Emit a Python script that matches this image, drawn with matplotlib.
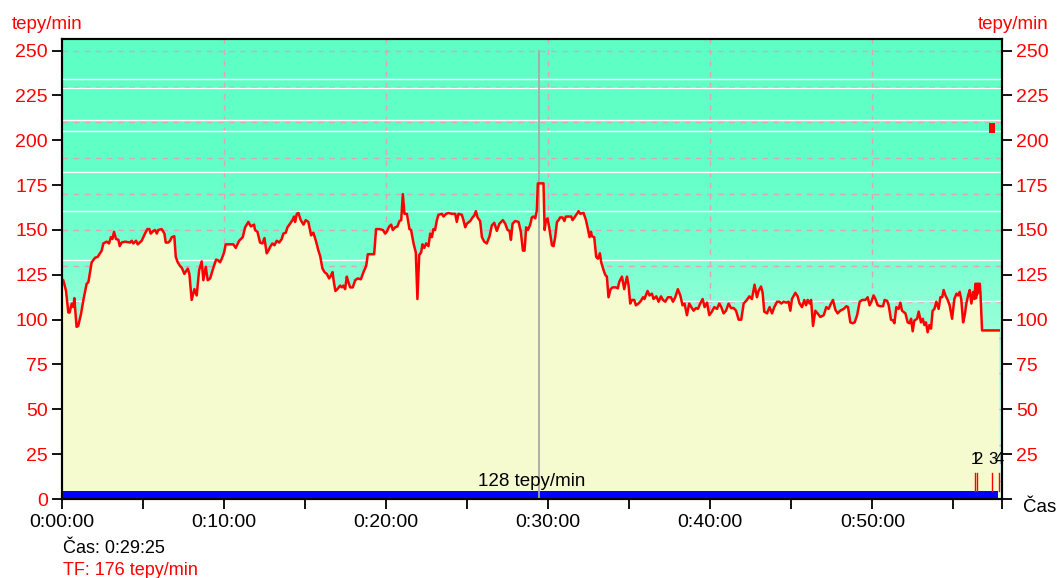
import numpy as np
import matplotlib
matplotlib.use("Agg")
import matplotlib.pyplot as plt
from matplotlib.colors import LinearSegmentedColormap
from matplotlib.ticker import FuncFormatter

plt.rcParams['font.family'] = ['Liberation Sans', 'DejaVu Sans']

# ── heart-rate trace (minutes, tepy/min) ─────────────────────────
hr_points = [
    (0.0, 122.5), (0.08, 122), (0.25, 116), (0.39, 104), (0.47, 104), (0.6, 109), (0.7, 107),
    (0.76, 112), (0.9, 96), (1.0, 96.5), (1.17, 103), (1.32, 111), (1.52, 120), (1.63, 121),
    (1.83, 132), (2.04, 134.5), (2.2, 135), (2.45, 138.5), (2.55, 142.5), (2.76, 143.5),
    (2.9, 142.5), (3.02, 146), (3.11, 145), (3.21, 149), (3.33, 145), (3.48, 144.5), (3.56, 141),
    (3.68, 143), (3.89, 143.5), (4.2, 143), (4.3, 144), (4.4, 142.5), (4.57, 144), (4.67, 142),
    (4.92, 144), (5.12, 148), (5.27, 150.5), (5.39, 150.5), (5.47, 148), (5.64, 149.5),
    (5.74, 150), (5.85, 148), (5.94, 150), (6.15, 150.5), (6.32, 148), (6.4, 143), (6.56, 143),
    (6.67, 144), (6.77, 146), (6.93, 146.5), (7.02, 135), (7.14, 132), (7.28, 130), (7.39, 129),
    (7.55, 125.5), (7.76, 128.5), (7.86, 125.5), (8.0, 111), (8.17, 117), (8.31, 113.5),
    (8.46, 127.5), (8.62, 132.5), (8.72, 122), (8.87, 129.5), (8.99, 122), (9.14, 123),
    (9.34, 129), (9.51, 133.5), (9.65, 133), (9.75, 132), (9.86, 134), (10.0, 137.5),
    (10.1, 142), (10.37, 142), (10.57, 142), (10.72, 140), (10.93, 144), (11.15, 146),
    (11.3, 151.5), (11.5, 154.5), (11.65, 152), (11.85, 153), (11.91, 150), (12.06, 149),
    (12.22, 143), (12.37, 142.5), (12.49, 145.5), (12.63, 137), (12.74, 138.5), (12.84, 140.5),
    (12.98, 142.5), (13.11, 141.5), (13.25, 144), (13.4, 143), (13.56, 145), (13.66, 148),
    (13.81, 148.5), (13.91, 151.5), (14.07, 153.5), (14.22, 155.5), (14.32, 157.5), (14.38, 154.5),
    (14.49, 159), (14.59, 159.5), (14.73, 155.5), (14.9, 153), (15.04, 155.5), (15.2, 154.5),
    (15.37, 147), (15.51, 148.5), (15.68, 143.5), (15.82, 138.5), (15.93, 135.5), (16.07, 128.5),
    (16.2, 126.5), (16.34, 125.5), (16.48, 123), (16.59, 124.5), (16.69, 126.5), (16.79, 120),
    (16.87, 116), (16.99, 117), (17.16, 119), (17.27, 118), (17.36, 119), (17.47, 117),
    (17.57, 124), (17.67, 121), (17.78, 118), (17.94, 118), (18.09, 122), (18.25, 123),
    (18.44, 122.5), (18.6, 126.5), (18.77, 130), (18.87, 136.5), (19.01, 136.5), (19.26, 136.5),
    (19.38, 150.5), (19.59, 150.5), (19.8, 150), (19.94, 148), (20.04, 149), (20.19, 152),
    (20.31, 153), (20.41, 150), (20.56, 151.5), (20.7, 152), (20.82, 155), (20.93, 155.5),
    (21.03, 170), (21.13, 159), (21.28, 159), (21.44, 150.5), (21.54, 150), (21.69, 142.5),
    (21.83, 137.5), (21.93, 111.5), (22.04, 136), (22.16, 137.5), (22.24, 142), (22.35, 140),
    (22.47, 142.5), (22.61, 141), (22.72, 148), (22.82, 146), (22.92, 150.5), (23.02, 150),
    (23.13, 155.5), (23.23, 158.5), (23.44, 159), (23.54, 157.5), (23.7, 159), (23.85, 159.5),
    (24.05, 159), (24.26, 159), (24.36, 154.5), (24.46, 159), (24.67, 158.5), (24.77, 155.5),
    (24.88, 151.5), (24.98, 153.5), (25.19, 155), (25.33, 157), (25.43, 158), (25.54, 160.5),
    (25.64, 157), (25.8, 155), (25.91, 146), (26.05, 143.5), (26.21, 142.5), (26.38, 146.5),
    (26.52, 152.5), (26.67, 154), (26.83, 149.5), (26.99, 153.5), (27.2, 155.5), (27.35, 153.5),
    (27.49, 150), (27.61, 149.5), (27.7, 144.5), (27.8, 153.5), (27.96, 155), (28.17, 154.5),
    (28.31, 149), (28.44, 138.5), (28.54, 138.5), (28.64, 151.5), (28.75, 150), (28.89, 153),
    (28.99, 157), (29.09, 157.5), (29.2, 156.5), (29.3, 161), (29.36, 176), (29.71, 176),
    (29.78, 150), (29.86, 155.5), (29.96, 156.5), (30.06, 151.5), (30.23, 141.5), (30.33, 141),
    (30.43, 146), (30.54, 154.5), (30.64, 155.5), (30.74, 157), (30.88, 157), (31.0, 155),
    (31.09, 157.5), (31.25, 157.5), (31.42, 157.5), (31.5, 155.5), (31.62, 157), (31.77, 159),
    (31.87, 160.5), (31.98, 159), (32.12, 159.5), (32.18, 159.5), (32.33, 155.5), (32.45, 150.5),
    (32.55, 146), (32.64, 149), (32.7, 146.5), (32.84, 146), (32.96, 135), (33.07, 134),
    (33.19, 137), (33.27, 132), (33.42, 127.5), (33.52, 125), (33.62, 124), (33.72, 112.5),
    (33.85, 117), (33.97, 118), (34.18, 118), (34.3, 117.5), (34.38, 121), (34.55, 124),
    (34.69, 117), (34.86, 124), (34.96, 119), (35.06, 109), (35.17, 111), (35.31, 111),
    (35.41, 108), (35.57, 109), (35.72, 110.5), (35.85, 112.5), (35.94, 111.5), (36.13, 116),
    (36.25, 113.5), (36.4, 114.5), (36.5, 111.5), (36.67, 113), (36.81, 110), (36.96, 113),
    (37.08, 111), (37.22, 110), (37.39, 112.5), (37.57, 112.5), (37.7, 110), (37.84, 112.5),
    (38.0, 117), (38.15, 113.5), (38.29, 108), (38.41, 109), (38.56, 102.5), (38.7, 109),
    (38.83, 107), (38.97, 105), (39.12, 106.5), (39.24, 106), (39.38, 109), (39.53, 111.5),
    (39.65, 107), (39.8, 109.5), (39.94, 102.5), (40.1, 104.5), (40.25, 107), (40.41, 106),
    (40.56, 109), (40.68, 107), (40.82, 103.5), (40.97, 105), (41.13, 109), (41.28, 106.5),
    (41.44, 106.5), (41.59, 105), (41.75, 100), (41.91, 100), (42.06, 109), (42.26, 111),
    (42.41, 113), (42.57, 111.5), (42.73, 119.5), (42.88, 112.5), (42.98, 116), (43.13, 118.5),
    (43.23, 115), (43.33, 104.5), (43.5, 103.5), (43.66, 107), (43.81, 103.5), (43.95, 107),
    (44.12, 110), (44.26, 110), (44.38, 109), (44.53, 110), (44.69, 109.5), (44.83, 110),
    (44.94, 105), (45.04, 111.5), (45.25, 115), (45.39, 113), (45.51, 109), (45.66, 107),
    (45.8, 111), (45.91, 108), (46.01, 111), (46.13, 109), (46.22, 111), (46.34, 96.5),
    (46.48, 105), (46.62, 103.5), (46.79, 101.5), (47.0, 102.5), (47.16, 107), (47.3, 106),
    (47.45, 109), (47.57, 111), (47.72, 105.5), (47.86, 103.5), (48.02, 105), (48.23, 106),
    (48.4, 107.5), (48.5, 107), (48.64, 98.5), (48.78, 98), (48.91, 98.5), (49.06, 102.5),
    (49.22, 110), (49.37, 111), (49.57, 111), (49.71, 112.5), (49.83, 108), (49.94, 110),
    (50.08, 113.5), (50.19, 111.5), (50.33, 108), (50.49, 107.5), (50.66, 107.5), (50.76, 111),
    (50.91, 110.5), (51.01, 108), (51.15, 100), (51.28, 99.5), (51.36, 98), (51.48, 107),
    (51.62, 106), (51.73, 109.5), (51.83, 105), (52.04, 103.5), (52.18, 98.5), (52.3, 98),
    (52.39, 100.5), (52.49, 93.5), (52.59, 99.5), (52.76, 100.5), (52.86, 104.5), (53.0, 98.5),
    (53.11, 100.5), (53.21, 97), (53.31, 98.5), (53.41, 93), (53.52, 97), (53.62, 95),
    (53.72, 105), (53.83, 106), (53.95, 110), (54.09, 106), (54.2, 112.5), (54.31, 112.5),
    (54.4, 116.5), (54.51, 113.5), (54.65, 111), (54.77, 108), (54.92, 100.5), (55.06, 111.5),
    (55.19, 114.5), (55.29, 113.5), (55.39, 115.5), (55.49, 111), (55.6, 98.5), (55.7, 102.5),
    (55.8, 109), (55.91, 113.5), (56.01, 116.5), (56.11, 109), (56.22, 115.5), (56.3, 111.5),
    (56.36, 120), (56.4, 112), (56.43, 120), (56.46, 114), (56.5, 120), (56.53, 115),
    (56.56, 120), (56.6, 116), (56.63, 120), (56.67, 115), (56.77, 94), (57.8, 94),
]
minutes = np.array([p[0] for p in hr_points])
bpm = np.array([p[1] for p in hr_points])

x_max = 58.0
y_max = 256.5
y_ticks = list(range(0, 251, 25))
major_x = [0, 10, 20, 30, 40, 50]
minor_x = [5, 15, 25, 35, 45, 55, 58]
grid_y = list(range(10, 251, 20))
zone_lines = [110.5, 133, 160.5, 182.5, 205, 211.5, 229, 234]

cursor_min = 29 + 25 / 60
cursor_bpm = 176
avg_bpm = 128
bar_end = 57.76
bar_height = 4.5

lap_min = [56.36, 56.48, 57.41, 57.84]
lap_names = ['1', '2', '3', '4']
lap_low, lap_high, lap_text_y = 4.5, 14.5, 22
max_mark = (57.22, 57.57, 204, 209.5)   # x0, x1, y0, y1


def fmt_time(m, pos=None):
    s = int(round(m * 60))
    return f"{s // 3600}:{(s // 60) % 60:02d}:{s % 60:02d}"


W, H = 1060, 578
fig = plt.figure(figsize=(W / 100, H / 100), dpi=100)
ax = fig.add_axes([62 / W, 79 / H, 940 / W, 460 / H])

# background gradient above the trace
cmap = LinearSegmentedColormap.from_list(
    'bg', [(0.0, '#e6fff4'), (0.4, '#93ffd7'), (0.55, '#74ffcf'),
           (0.75, '#61ffc7'), (1.0, '#5effc5')])
grad = np.linspace(0, 1, 256).reshape(-1, 1)
ax.imshow(grad, cmap=cmap, origin='lower', aspect='auto',
          extent=[0, x_max, 0, y_max], zorder=0)

for y in grid_y:
    ax.axhline(y, color='#d8a8ba', lw=1, dashes=(4, 4), zorder=1)
for x in major_x[1:]:
    ax.axvline(x, color='#d8a8ba', lw=1, dashes=(4, 4), zorder=1)
for y in zone_lines:
    ax.axhline(y, color='white', lw=1, zorder=1)

ax.fill_between(minutes, bpm, 0, color='#f6fbcf', lw=0, zorder=2)
ax.barh(0, bar_end, height=bar_height, left=0, align='edge',
        color='#0000ff', lw=0, zorder=2.5)
ax.plot([cursor_min, cursor_min], [0, 250], color='#a8a8a8', lw=1.3, zorder=3)
ax.plot(minutes, bpm, color='#ff0000', lw=1.8, zorder=4)

for m, name in zip(lap_min, lap_names):
    ax.plot([m, m], [lap_low, lap_high], color='#ff0000', lw=1, zorder=4)
    ax.text(m, lap_text_y, name, ha='center', va='center', fontsize=12, zorder=5)
ax.fill_between([max_mark[0], max_mark[1]], max_mark[2], max_mark[3],
                color='#ff0000', lw=0, zorder=4)

ax.text(0.5, bar_height + 0.3, f"{avg_bpm} tepy/min", transform=ax.get_yaxis_transform(),
        ha='center', va='bottom', fontsize=13.5, zorder=5)

ax.set_xlim(0, x_max)
ax.set_ylim(0, y_max)
ax.set_xticks(major_x)
ax.set_xticks(minor_x, minor=True)
ax.xaxis.set_major_formatter(FuncFormatter(fmt_time))
ax.set_yticks(y_ticks)
ax.tick_params(axis='x', which='both', direction='out', length=7, width=1.3,
               labelsize=14, pad=4)
ax.tick_params(axis='y', direction='out', length=7, width=1.3, labelsize=14,
               labelcolor='#ff0000', pad=3)

# right axis: same scale, no label at zero (the "Čas" caption sits there)
ax2 = ax.twinx()
ax2.set_ylim(0, y_max)
ax2.set_yticks(y_ticks)
ax2.set_yticklabels([''] + [str(v) for v in y_ticks[1:]])
ax2.tick_params(axis='y', direction='out', length=7, width=1.3, labelsize=14,
                labelcolor='#ff0000', pad=3)
for a in (ax, ax2):
    for sp in a.spines.values():
        sp.set_linewidth(1.5)

fig.text(12 / W, 1 - 29 / H, 'tepy/min', color='#ff0000', fontsize=13.5, va='baseline')
fig.text(1048 / W, 1 - 29 / H, 'tepy/min', color='#ff0000', fontsize=13.5,
         va='baseline', ha='right')
fig.text(1023 / W, 1 - 512 / H, 'Čas', fontsize=13.5, va='baseline')
fig.text(63 / W, 1 - 553 / H, f"Čas: {fmt_time(cursor_min)}", fontsize=13, va='baseline')
fig.text(63 / W, 1 - 575 / H, f"TF: {cursor_bpm} tepy/min", fontsize=13,
         va='baseline', color='#ff0000')

fig.savefig('out.png', dpi=100)
